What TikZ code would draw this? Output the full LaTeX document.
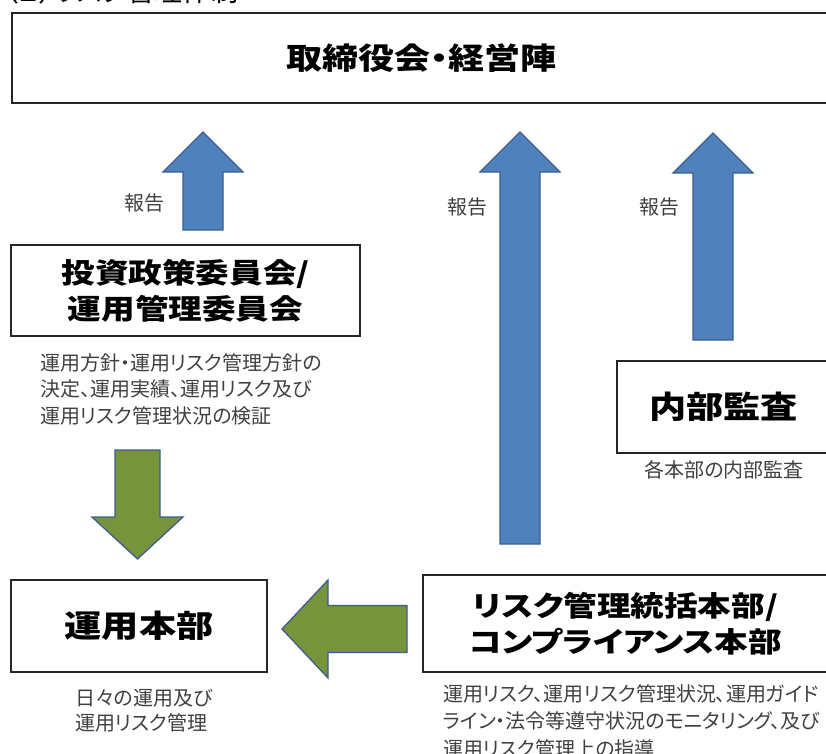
\documentclass[tikz,border=0pt]{standalone}
\usepackage{fontspec}
\setmainfont{Noto Sans CJK JP}[RawFeature=+palt]
\newfontfamily\futoji{Noto Sans CJK JP}[FakeStretch=1.2,RawFeature=+palt]
\usetikzlibrary{calc}

\definecolor{yaao}{HTML}{4F81BD}
\definecolor{yamidori}{HTML}{77933C}
\definecolor{yawaku}{HTML}{3B5E8C}

% 矢印(根元,先端,軸の半幅,頭の半幅,頭の長さ)
\newcommand{\yajirushi}[6]{%
  \coordinate (ya-kubi) at ($(#3)!#6!(#2)$);
  \draw[#1] ($(#2)!#4!90:(#3)$) -- ($(ya-kubi)!#4!90:(#3)$) -- ($(ya-kubi)!#5!90:(#3)$) -- (#3)
    -- ($(ya-kubi)!#5!-90:(#3)$) -- ($(ya-kubi)!#4!-90:(#3)$) -- ($(#2)!#4!-90:(#3)$) -- cycle;
}

\begin{document}
\begin{tikzpicture}[x=1pt,y=-1pt,
  waku/.style={draw=black!85,line width=1.6pt,fill=white,inner sep=0pt},
  midashi/.style={font=\futoji\bfseries\fontsize{28}{36}\selectfont,align=center},
  setsumei/.style={font=\fontsize{20}{26.5}\selectfont,text=black!75,align=left,inner sep=0pt},
  hokoku/.style={font=\fontsize{20}{20}\selectfont,text=black!75,inner sep=0pt},
  aoya/.style={fill=yaao,draw=yawaku,line width=1.3pt},
  midoriya/.style={fill=yamidori,draw=yawaku,line width=1.3pt}]
 \useasboundingbox (0,0) rectangle (826,753);

 \node[anchor=base west,inner sep=0pt,font=\fontsize{28}{28}\selectfont] (midashi) at (4,1) {（２）リスク管理体制}; %見出し

 \node[waku,midashi,font=\futoji\bfseries\fontsize{30}{36}\selectfont,line width=2.4pt,minimum width=818pt,minimum height=90pt] (torishimari) at (421,58) {取締役会・経営陣}; %取締役会
 \node[waku,midashi,minimum width=349pt,minimum height=91pt] (iinkai) at (185.5,290.5) {投資政策委員会/\\運用管理委員会}; %委員会
 \node[waku,midashi,font=\futoji\bfseries\fontsize{31}{36}\selectfont,minimum width=213pt,minimum height=92pt] (kansa) at (723.5,407) {内部監査}; %内部監査
 \node[waku,midashi,font=\futoji\bfseries\fontsize{31}{36}\selectfont,minimum width=256pt,minimum height=92pt] (unyo) at (139,626) {運用本部}; %運用本部
 \node[waku,midashi,minimum width=405pt,minimum height=97pt] (risk) at (625.5,623.5) {リスク管理統括本部/\\コンプライアンス本部}; %リスク管理

 \node[setsumei,anchor=north west] (iinkai-s) at (40,353) {運用方針・運用リスク管理方針の\\決定、運用実績、運用リスク及び\\運用リスク管理状況の検証};
 \node[setsumei,anchor=center] (kansa-s) at (724,470) {各本部の内部監査};
 \node[setsumei,anchor=north west,font=\fontsize{20}{25}\selectfont] (unyo-s) at (75,689) {日々の運用及び\\運用リスク管理};
 \node[setsumei,anchor=north west,font=\fontsize{20}{27.5}\selectfont] (risk-s) at (443,684) {運用リスク、運用リスク管理状況、運用ガイド\\ライン・法令等遵守状況のモニタリング、及び\\運用リスク管理上の指導};

 % 報告の矢印
 \coordinate (h1a) at (203,230); \coordinate (h1b) at (203,132);
 \coordinate (h2a) at (520,544); \coordinate (h2b) at (520,132);
 \coordinate (h3a) at (713,340); \coordinate (h3b) at (713,133);
 \yajirushi{aoya}{h1a}{h1b}{20pt}{40pt}{40pt}
 \yajirushi{aoya}{h2a}{h2b}{20pt}{40pt}{40pt}
 \yajirushi{aoya}{h3a}{h3b}{20pt}{40pt}{40pt}
 \node[hokoku] (hk1) at (144,203) {報告};
 \node[hokoku] (hk2) at (467.5,207) {報告};
 \node[hokoku] (hk3) at (659,207) {報告};

 % 指示の矢印
 \coordinate (s1a) at (137.5,450); \coordinate (s1b) at (137.5,559);
 \coordinate (s2a) at (407,629); \coordinate (s2b) at (282,629);
 \yajirushi{midoriya}{s1a}{s1b}{22.5pt}{45.5pt}{42pt}
 \yajirushi{midoriya}{s2a}{s2b}{23.5pt}{49pt}{46pt}
\end{tikzpicture}
\end{document}
